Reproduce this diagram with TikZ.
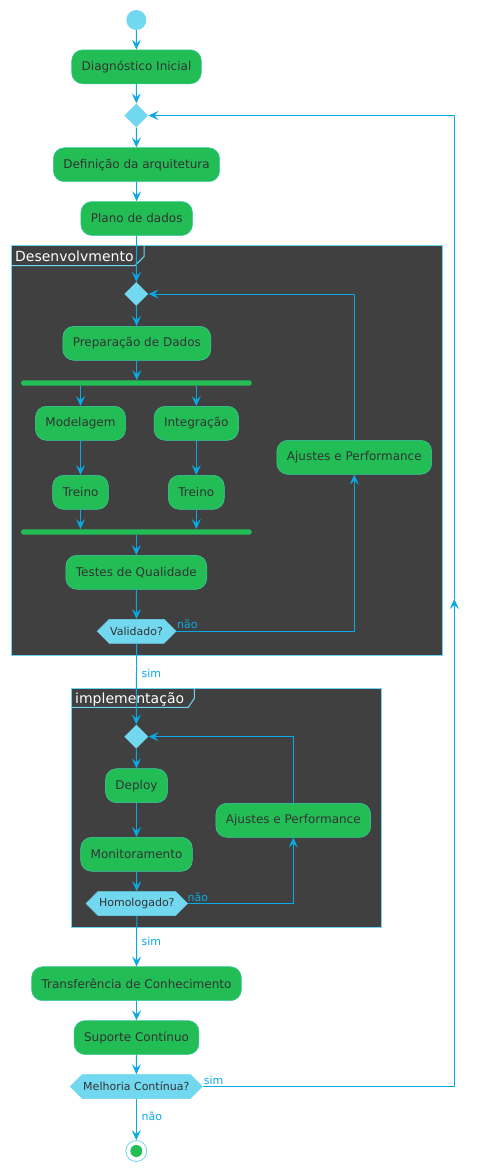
\documentclass[tikz,border=0pt]{standalone}
\usepackage{fontspec}
\setmainfont{DejaVu Sans}
\usetikzlibrary{shapes.geometric,shapes.symbols,arrows.meta,calc}
\definecolor{actgreen}{HTML}{22BE55}
\definecolor{actborder}{HTML}{3FC9A6}
\definecolor{txt}{HTML}{333333}
\definecolor{flow}{HTML}{0AA9E3}
\definecolor{dia}{HTML}{72D8F0}
\definecolor{framebg}{HTML}{404040}
\definecolor{frameline}{HTML}{6DD5EF}
\tikzset{
  act/.style={rectangle, rounded corners=11pt, fill=actgreen, draw=actborder, line width=0.5pt, text=txt,
    font=\fontsize{12}{14}\selectfont, inner xsep=10pt, inner ysep=0pt, minimum height=34pt},
  merge/.style={diamond, aspect=1, minimum size=24pt, inner sep=0pt, fill=dia},
  hexa/.style={signal, signal to=west and east, signal pointer angle=90, fill=dia, draw=frameline,
    line width=0.5pt, text=txt, font=\fontsize{11}{13}\selectfont, inner xsep=1pt, inner ysep=0pt, minimum height=24pt},
  flowline/.style={draw=flow, line width=1pt},
  arr/.style={flowline, -{Stealth[length=10pt,width=9pt,inset=4pt]}},
  lbl/.style={text=flow, font=\fontsize{11}{13}\selectfont, inner sep=0pt},
  forkbar/.style={rectangle, rounded corners=2.5pt, fill=actgreen, minimum height=5.4pt, inner sep=0pt},
  ftitle/.style={text=white, font=\fontsize{14}{16}\selectfont, inner sep=0pt},
  framebox/.style={fill=framebg, draw=frameline, line width=1pt}
}
\begin{document}
\begin{tikzpicture}[x=1pt,y=-1pt]
\useasboundingbox[fill=white] (0,0) rectangle (479,1172);

% frames
\draw[framebox] (11.7,245) rectangle (442.7,655);
\draw[frameline, line width=1pt] (11.7,265.7) -- (135,265.7) -- (144,256.7) -- (144,245);
\node[ftitle, anchor=base west] (t1) at (15,261) {Desenvolvmento};

\draw[framebox] (71.3,688.7) rectangle (381.3,927.3);
\draw[frameline, line width=1pt] (71.3,707.3) -- (188.3,707.3) -- (194.3,698.3) -- (194.3,688.7);
\node[ftitle, anchor=base west] (t2) at (75,703.3) {implementação};

% nodes
\node[circle, fill=dia, minimum size=20pt, inner sep=0pt] (start) at (136.3,20) {};
\node[act] (diag) at (136.5,66.8) {Diagnóstico Inicial};
\node[merge] (d1) at (136.3,115.5) {};
\node[act] (def) at (136.5,164.7) {Definição da arquitetura};
\node[act] (plano) at (136.7,218.5) {Plano de dados};
\node[merge] (d2) at (136.3,294) {};
\node[act] (prep) at (136.8,343.3) {Preparação de Dados};
\node[forkbar, minimum width=230.7pt] (f1) at (136.35,383) {};
\node[act] (model) at (80.5,423.3) {Modelagem};
\node[act] (integ) at (196.3,423.3) {Integração};
\node[act] (tr1) at (80.5,492.3) {Treino};
\node[act] (tr2) at (196.3,492.3) {Treino};
\node[forkbar, minimum width=230.7pt] (f2) at (136.35,532) {};
\node[act] (testes) at (136.3,572.3) {Testes de Qualidade};
\node[hexa] (valid) at (136.6,631.3) {Validado?};
\node[act] (aj1) at (354.3,457.3) {Ajustes e Performance};

\node[merge] (d3) at (136.3,736.7) {};
\node[act] (deploy) at (136.5,785.7) {Deploy};
\node[act] (monit) at (136.5,854.3) {Monitoramento};
\node[hexa] (homol) at (136.8,903.5) {Homologado?};
\node[act] (aj2) at (293.3,820.3) {Ajustes e Performance};

\node[act] (transf) at (136.5,983.7) {Transferência de Conhecimento};
\node[act] (sup) at (136.5,1037.5) {Suporte Contínuo};
\node[hexa] (mel) at (136.3,1086.5) {Melhoria Contínua?};
\node[circle, draw=frameline, line width=0.8pt, fill=white, minimum size=21pt, inner sep=0pt] (stop) at (136.3,1151) {};
\node[circle, fill=actgreen, minimum size=12pt, inner sep=0pt] (stopin) at (stop.center) {};

% connectors
\draw[arr] (start) -- (diag);
\draw[arr] (diag) -- (d1);
\draw[arr] (d1) -- (def);
\draw[arr] (def) -- (plano);
\draw[arr] (plano) -- (d2);
\draw[arr] (d2) -- (prep);
\draw[arr] (prep) -- (prep |- f1.north);
\draw[arr] (model |- f1.south) -- (model);
\draw[arr] (integ |- f1.south) -- (integ);
\draw[arr] (model) -- (tr1);
\draw[arr] (integ) -- (tr2);
\draw[arr] (tr1) -- (tr1 |- f2.north);
\draw[arr] (tr2) -- (tr2 |- f2.north);
\draw[arr] (f2.south -| testes) -- (testes);
\draw[arr] (testes) -- (valid);
\draw[arr] (valid.east) -| (aj1.south);
\node[lbl, anchor=base west] (lnao1) at (177,628.5) {não};
\draw[arr] (aj1.north) |- (d2.east);
\draw[arr] (valid.south) -- (d3.north);
\node[lbl, anchor=base west] (lsim1) at (141.5,677) {sim};

\draw[arr] (d3) -- (deploy);
\draw[arr] (deploy) -- (monit);
\draw[arr] (monit) -- (homol);
\draw[arr] (homol.east) -| (aj2.south);
\node[lbl, anchor=base west] (lnao2) at (187.5,901) {não};
\draw[arr] (aj2.north) |- (d3.east);
\draw[arr] (homol.south) -- (transf);
\node[lbl, anchor=base west] (lsim2) at (141.5,945.5) {sim};

\draw[arr] (transf) -- (sup);
\draw[arr] (sup) -- (mel);
\coordinate (loopmid) at (454.3,599);
\draw[arr] (mel.east) -| (loopmid);
\draw[arr] (loopmid) |- (d1.east);
\node[lbl, anchor=base west] (lsim3) at (203.7,1084) {sim};
\draw[arr] (mel.south) -- (stop);
\node[lbl, anchor=base west] (lnao3) at (141.5,1120) {não};
\end{tikzpicture}
\end{document}
